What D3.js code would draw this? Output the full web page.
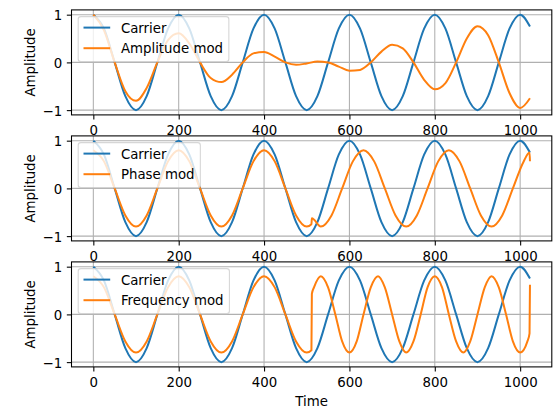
<!DOCTYPE html>
<html>
<head>
<meta charset="utf-8">
<script src="https://cdn.jsdelivr.net/npm/d3@7"></script>
<style>
  body { margin: 0; background: #fff; }
  svg { display: block; font-family: "DejaVu Sans", sans-serif; }
</style>
</head>
<body>
<div class="container"></div>
<script>
// values
const carrierTime = [0, 25, 50, 75, 100, 125, 150, 175, 200, 225, 250, 275, 300, 325, 350, 375,
                     400, 425, 450, 475, 500, 525, 550, 575, 600, 625, 650, 675, 700, 725, 750, 775,
                     800, 825, 850, 875, 900, 925, 950, 975, 1000, 1023];
const carrier = [1, .707, 0, -.707, -1, -.707, 0, .707,
                 1, .707, 0, -.707, -1, -.707, 0, .707,
                 1, .707, 0, -.707, -1, -.707, 0, .707,
                 1, .707, 0, -.707, -1, -.707, 0, .707,
                 1, .707, 0, -.707, -1, -.707, 0, .707,
                 1, .75];
const ampMod = [1, .672, 0, -.603, -.804, -.534, 0, .465,
                .609, .396, 0, -.327, -.413, -.258, 0, .189,
                .218, .120, 0, -.050, -.022, .018, 0, -.088,
                -.173, -.157, 0, .226, .369, .295, 0, -.364,
                -.564, -.433, 0, .503, .760, .571, 0, -.641,
                -.955, -.75];

const phaseTime = [0, 25, 50, 75, 100, 125, 150, 175, 200, 225, 250, 275, 300, 325, 350, 375,
                   400, 425, 450, 475, 500, 511, 512, 533, 558, 583, 608, 633, 658, 683, 708, 733,
                   758, 783, 808, 833, 858, 883, 908, 933, 958, 983, 1008, 1022, 1023];
const phaseMod = [.8, .566, 0, -.566, -.8, -.566, 0, .566,
                  .8, .566, 0, -.566, -.8, -.566, 0, .566,
                  .8, .566, 0, -.566, -.8, -.752, -.626, -.8,
                  -.566, 0, .566, .8, .566, 0, -.566, -.8,
                  -.566, 0, .566, .8, .566, 0, -.566, -.8,
                  -.566, 0, .56, .75, .57];

const freqTime = [0, 25, 50, 75, 100, 125, 150, 175, 200, 225, 250, 275, 300, 325, 350, 375,
                  400, 425, 450, 475, 500, 511, 512, 517, 533, 550, 567, 583, 600, 617, 633, 650,
                  667, 683, 700, 717, 733, 750, 767, 783, 800, 817, 833, 850, 867, 883, 900, 917,
                  933, 950, 967, 983, 1000, 1017, 1022, 1023];
const freqMod = [.8, .566, 0, -.566, -.8, -.566, 0, .566,
                 .8, .566, 0, -.566, -.8, -.566, 0, .566,
                 .8, .566, 0, -.566, -.8, -.752, .43, .566,
                 .8, .566, 0, -.566, -.8, -.566, 0, .566,
                 .8, .566, 0, -.566, -.8, -.566, 0, .566,
                 .8, .566, 0, -.566, -.8, -.566, 0, .566,
                 .8, .566, 0, -.566, -.8, -.566, -.40, .62];

const modLabels = ['Amplitude mod', 'Phase mod', 'Frequency mod'];
const xTicks = [0, 200, 400, 600, 800, 1000];
const yTicks = [-1, 0, 1];

const w = 553;
const h = 408;
const pad = {left: 71.5, right: 1.2};
const plotH = 105;
const plotTops = [9.9, 135.9, 261.9];
const fs = 13.33;
const blue = '#1f77b4';
const orange = '#ff7f0e';

const svg = d3.select('.container')
              .append('svg')
              .attr('width', w)
              .attr('height', h);

const xScale = d3.scaleLinear()
                 .domain([-51.15, 1074.15])
                 .range([pad.left, w - pad.right]);

const panels = [
  {time: carrierTime, values: ampMod},
  {time: phaseTime, values: phaseMod},
  {time: freqTime, values: freqMod}
];

panels.forEach((p, i) => {
  const top = plotTops[i];
  const yScale = d3.scaleLinear()
                   .domain([-1.1, 1.1])
                   .range([top + plotH, top]);
  const g = svg.append('g');

  // axes background
  g.append('rect')
   .attr('x', pad.left)
   .attr('y', top)
   .attr('width', w - pad.right - pad.left)
   .attr('height', plotH)
   .style('fill', '#fff');

  // grid
  g.selectAll('.vgrid')
   .data(xTicks)
   .enter()
   .append('line')
   .attr('x1', d => xScale(d))
   .attr('x2', d => xScale(d))
   .attr('y1', top)
   .attr('y2', top + plotH)
   .style('stroke', '#b0b0b0')
   .style('stroke-width', 1.07);
  g.selectAll('.hgrid')
   .data(yTicks)
   .enter()
   .append('line')
   .attr('x1', pad.left)
   .attr('x2', w - pad.right)
   .attr('y1', d => yScale(d))
   .attr('y2', d => yScale(d))
   .style('stroke', '#b0b0b0')
   .style('stroke-width', 1.07);

  // signals
  const line = d3.line()
                 .x(d => xScale(d[0]))
                 .y(d => yScale(d[1]))
                 .curve(d3.curveMonotoneX);
  g.append('path')
   .attr('d', line(carrierTime.map((t, k) => [t, carrier[k]])))
   .style('fill', 'none')
   .style('stroke', blue)
   .style('stroke-width', 2);
  g.append('path')
   .attr('d', line(p.time.map((t, k) => [t, p.values[k]])))
   .style('fill', 'none')
   .style('stroke', orange)
   .style('stroke-width', 2);

  // x axis
  const xAxis = g.append('g')
                 .attr('transform', `translate(0, ${top + plotH})`)
                 .call(d3.axisBottom(xScale).tickValues(xTicks)
                         .tickSize(4.67).tickSizeOuter(0).tickPadding(6.3)
                         .tickFormat(d3.format('d')));
  // y axis
  const yAxis = g.append('g')
                 .attr('transform', `translate(${pad.left}, 0)`)
                 .call(d3.axisLeft(yScale).tickValues(yTicks)
                         .tickSize(4.67).tickSizeOuter(0).tickPadding(4.6)
                         .tickFormat(d3.format('d')));
  [xAxis, yAxis].forEach(a => {
    a.attr('font-size', fs).attr('font-family', '"DejaVu Sans", sans-serif');
    a.select('.domain').remove();
    a.selectAll('line').style('stroke', '#000').style('stroke-width', 1.07);
    a.selectAll('text').style('fill', '#000');
  });
  yAxis.selectAll('text').attr('dy', '0.37em');

  // spines
  g.append('rect')
   .attr('x', pad.left)
   .attr('y', top)
   .attr('width', w - pad.right - pad.left)
   .attr('height', plotH)
   .style('fill', 'none')
   .style('stroke', '#000')
   .style('stroke-width', 1.07);

  // y title
  g.append('text')
   .text('Amplitude')
   .attr('text-anchor', 'middle')
   .attr('transform', `translate(34.6, ${top + plotH / 2}) rotate(-90)`)
   .style('font-size', fs + 'px');

  // legend
  const lx = pad.left + 6.7, ly = top + 6.7;
  const legend = g.append('g');
  const box = legend.append('rect')
                    .attr('x', lx)
                    .attr('y', ly)
                    .attr('height', 45)
                    .attr('rx', 2.7)
                    .style('fill', 'rgba(255,255,255,0.8)')
                    .style('stroke', 'rgba(204,204,204,0.8)')
                    .style('stroke-width', 1.07);
  const rows = [{label: 'Carrier', color: blue}, {label: modLabels[i], color: orange}];
  let textW = 0;
  rows.forEach((r, k) => {
    const cy = ly + 11 + k * 20.6;
    legend.append('line')
          .attr('x1', lx + 5.3)
          .attr('x2', lx + 32)
          .attr('y1', cy)
          .attr('y2', cy)
          .style('stroke', r.color)
          .style('stroke-width', 2);
    const t = legend.append('text')
                    .text(r.label)
                    .attr('x', lx + 42.7)
                    .attr('y', cy + 5)
                    .style('font-size', fs + 'px');
    textW = Math.max(textW, t.node().getComputedTextLength());
  });
  box.attr('width', 42.7 + textW + 5.8);
});

// x title
svg.append('text')
   .text('Time')
   .attr('text-anchor', 'middle')
   .attr('x', (pad.left + w - pad.right) / 2)
   .attr('y', 406.3)
   .style('font-size', fs + 'px');
</script>
</body>
</html>
